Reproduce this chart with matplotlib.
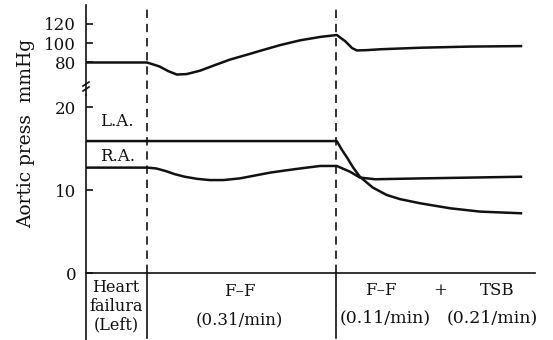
import numpy as np
import matplotlib
matplotlib.use("Agg")
import matplotlib.pyplot as plt

plt.rcParams['font.family'] = ['DejaVu Serif']
plt.rcParams['font.size'] = 11

# time axis (arbitrary units), events at 10 and 41
events = [10, 41]
x_end = 73.6

# aortic pressure (mmHg)
t_ao = [0, 10, 12, 13.5, 14.9, 16.5, 18.7, 21.0, 23.6, 26.9, 28.5, 31.8, 35.1,
        38.4, 41.1, 42.5, 43.6, 44.4, 46.0, 48.2, 54.8, 63.0, 71.3]
aortic = [80, 80, 76, 71, 67.5, 68, 71.5, 77, 83, 89, 92, 98, 103,
          106.5, 108.5, 102, 95, 92.5, 92.8, 93.7, 95.3, 96.5, 97]

# left atrium
t_la = [0, 10, 25, 41.1, 41.9, 42.8, 43.8, 44.9, 47.0, 49.3, 51.5, 54.8, 59.7,
        64.6, 71.3]
left_atr = [15.9, 15.9, 15.9, 15.9, 14.9, 13.9, 12.7, 11.6, 10.3, 9.4, 8.9,
            8.4, 7.8, 7.4, 7.2]

# right atrium
t_ra = [0, 10, 11.5, 13, 14.6, 16.2, 18.2, 20.3, 22.5, 25.2, 27.7, 30.2, 32.6,
        35.1, 38.4, 41.1, 43.3, 44.9, 47.4, 54.8, 71.3]
right_atr = [12.7, 12.7, 12.6, 12.3, 11.9, 11.6, 11.35, 11.2, 11.2, 11.4, 11.75,
             12.1, 12.35, 12.6, 12.9, 12.9, 12.2, 11.5, 11.3, 11.4, 11.6]

W, H = 553, 340
fig = plt.figure(figsize=(W / 100, H / 100), dpi=100)

x0, x1 = 86, 535
ax_top = fig.add_axes([x0 / W, (H - 95) / H, (x1 - x0) / W, 90 / H])
ax_bot = fig.add_axes([x0 / W, 0, (x1 - x0) / W, 245 / H])

ink = "#111111"
lw = 1.8
for ax in (ax_top, ax_bot):
    for s in ("top", "right", "bottom"):
        ax.spines[s].set_visible(False)
    ax.spines["left"].set_linewidth(1.2)
    ax.spines["left"].set_color(ink)
    ax.set_xlim(0, x_end)
    ax.set_xticks([])
    ax.tick_params(axis="y", direction="in", length=5, width=1.2, pad=7,
                   labelsize=12, color=ink, labelcolor=ink)
    ax.patch.set_alpha(0)

# upper part: aortic
ax_top.plot(t_ao, aortic, color=ink, lw=lw)
ax_top.set_ylim(46.3, 139.6)
ax_top.set_yticks([80, 100, 120])

# lower part: atria
ax_bot.plot(t_la, left_atr, color=ink, lw=lw)
ax_bot.plot(t_ra, right_atr, color=ink, lw=lw)
ax_bot.set_ylim(-8.07, 21.45)
ax_bot.set_yticks([0, 10, 20])
ax_bot.plot([0, x_end], [0, 0], color=ink, lw=1.2, clip_on=False)

# event lines: dashed above zero, solid in the label box
for e in events:
    ax_bot.plot([e, e], [0, 32.0], color=ink, lw=1.2, ls=(0, (5, 3.5)),
                clip_on=False)
    ax_bot.plot([e, e], [0, -7.8], color=ink, lw=1.2, clip_on=False)

# break mark on the axis
for dy in (0, 5):
    fig.add_artist(plt.Line2D([(x0 - 3) / W, (x0 + 3) / W],
                              [(H - 86 - dy) / H, (H - 82 - dy) / H],
                              color=ink, lw=1.2))

ax_bot.text(5.1, 18.2, "L.A.", ha="center", va="center", fontsize=12, color=ink)
ax_bot.text(5.1, 14.0, "R.A.", ha="center", va="center", fontsize=12, color=ink)

ax_bot.text(4.9, -4.0, "Heart\nfailura\n(Left)", ha="center", va="center",
            fontsize=11.5, linespacing=1.1, color=ink)
ax_bot.text(25.2, -2.2, "F\u2013F", ha="center", va="center", fontsize=12, color=ink)
ax_bot.text(25.2, -5.7, "(0.31/min)", ha="center", va="center", fontsize=12, color=ink)
ax_bot.text(48.4, -2.1, "F\u2013F", ha="center", va="center", fontsize=12, color=ink)
ax_bot.text(58.0, -2.1, "+", ha="center", va="center", fontsize=12, color=ink)
ax_bot.text(67.4, -2.1, "TSB", ha="center", va="center", fontsize=12, color=ink)
ax_bot.text(49.0, -5.4, "(0.11/min)", ha="center", va="center", fontsize=12.5, color=ink)
ax_bot.text(66.6, -5.4, "(0.21/min)", ha="center", va="center", fontsize=12.5, color=ink)

fig.text(26 / W, (H - 133) / H, "Aortic press  mmHg", rotation=90,
         ha="center", va="center", fontsize=13.4, color=ink)

fig.savefig("out.png", dpi=100)
